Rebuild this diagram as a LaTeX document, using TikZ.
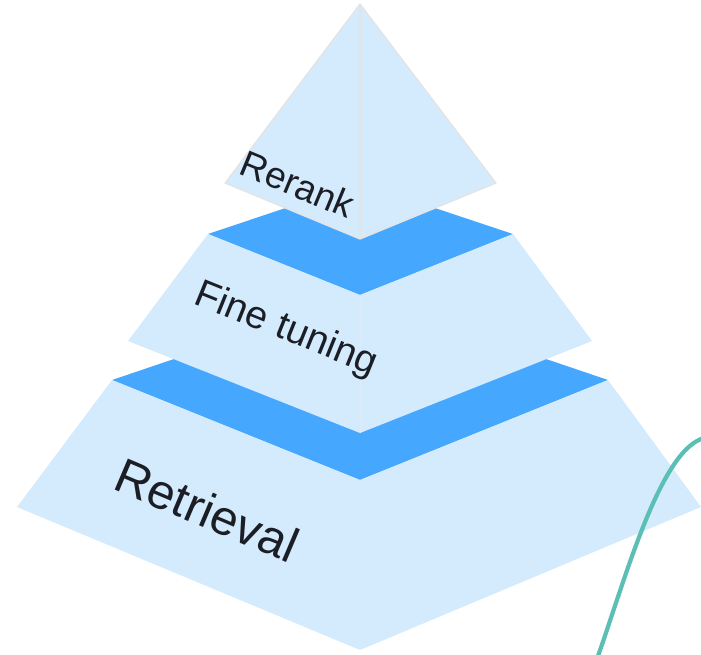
\documentclass[tikz,border=0pt]{standalone}
\usepackage{fontspec}
\setmainfont{Liberation Sans}
\definecolor{facelight}{HTML}{D4EAFD}
\definecolor{facetop}{HTML}{45A8FE}
\definecolor{rim}{HTML}{E4E4E4}
\definecolor{seam}{HTML}{DCEBFA}
\definecolor{labelink}{HTML}{1C1E26}
\definecolor{wave}{HTML}{5BBFB5}
\begin{document}
\begin{tikzpicture}[x=1pt,y=-1pt,
  face/.style={fill=facelight},
  topface/.style={fill=facetop},
  tiplabel/.style={text=labelink,inner sep=0pt}]
\useasboundingbox (0,0) rectangle (701,654);
% bottom tier
\fill[topface] (112,380) -- (360,296) -- (608,380) -- (360,480) -- cycle;
\fill[face] (112,380) -- (360,480) -- (360,650) -- (17,507) -- cycle;
\fill[face] (360,480) -- (608,380) -- (701,507) -- (360,650) -- cycle;
% middle tier
\fill[topface] (208,234) -- (360,183) -- (513,234) -- (360,295) -- cycle;
\fill[face] (208,234) -- (360,295) -- (360,433) -- (128,341) -- cycle;
\fill[face] (360,295) -- (513,234) -- (592,341) -- (360,433) -- cycle;
\draw[seam,line width=0.8pt] (360,295) -- (360,433);
% top tier
\filldraw[face,draw=rim,line width=1.3pt,line join=round]
  (360,4) -- (225,183) -- (360,239) -- (496,183) -- cycle;
\draw[rim,line width=1.3pt] (360,4) -- (360,239);
% labels
\node[tiplabel,font=\fontsize{37}{44}\selectfont,rotate=-22.5] (rerank) at (298,184) {Rerank};
\node[tiplabel,font=\fontsize{39}{46}\selectfont,rotate=-22] (finetune) at (286,330) {Fine tuning};
\node[tiplabel,font=\fontsize{49}{58}\selectfont,rotate=-23] (retrieval) at (207,510) {Retrieval};
% teal curve
\draw[wave,line width=4.2pt] (704,438) .. controls (660,450) and (625,580) .. (598,656);
\end{tikzpicture}
\end{document}
